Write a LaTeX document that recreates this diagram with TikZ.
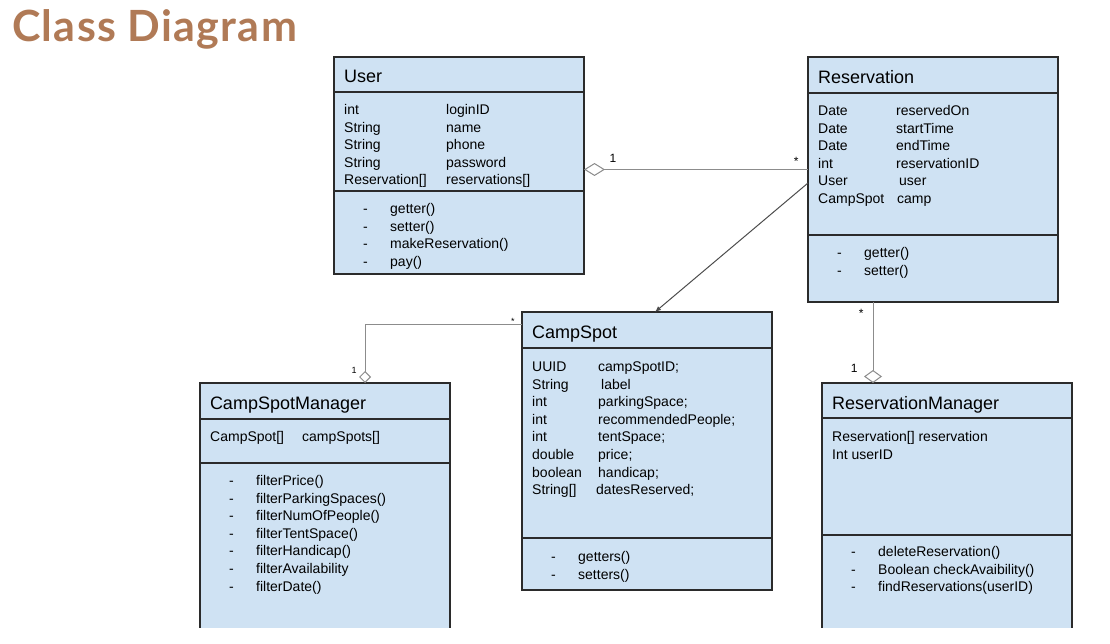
\documentclass[tikz,border=0pt]{standalone}
\usepackage{fontspec}
\setmainfont{Liberation Sans}
\newfontfamily\titlefont{Lato}[LetterSpace=3]
\usepackage{tikz}
\usetikzlibrary{arrows.meta, positioning}
\definecolor{boxfill}{HTML}{CFE2F3}
\definecolor{boxline}{HTML}{2B2B2B}
\definecolor{linkgray}{HTML}{8C8C8C}
\definecolor{titlebrown}{RGB}{176,122,86}
\newcommand{\fld}[3]{\makebox[#1][l]{#2}#3}
\newcommand{\op}[1]{\hspace*{19pt}\makebox[27pt][l]{-}#1}
\tikzset{
    part/.style={rectangle, draw=boxline, line width=1.2pt, fill=boxfill, inner sep=0pt, outer sep=0pt, minimum width=250pt},
    head/.style={part, anchor=north west, text width=230pt, inner xsep=10pt, align=left, text height=17pt, text depth=0pt, font=\fontsize{18}{21}\selectfont},
    fieldtext/.style={inner sep=0pt, align=left, font=\fontsize{14}{17.6}\selectfont},
    link/.style={draw=linkgray, line width=1pt},
    navarrow/.style={-{Latex[length=6pt, width=5pt]}, draw=black!70, line width=1pt},
    mult/.style={inner sep=1pt, font=\fontsize{12}{14}\selectfont}
}

\begin{document}
\begin{tikzpicture}[x=1pt, y=-1pt]
    \useasboundingbox (0,0) rectangle (1110,644);
    \clip (0,0) rectangle (1110,627.5);

    % Title
    \node[anchor=base west, inner sep=0pt, text=titlebrown, font=\titlefont\bfseries\fontsize{43}{48}\selectfont] (title) at (12,42) {Class Diagram};

    % User
    \node[head, minimum height=35pt] (user-head) at (334,57) {User};
    \node[part, below=0pt of user-head, minimum height=99pt] (user-fields) {};
    \node[part, below=0pt of user-fields, minimum height=83pt] (user-ops) {};
    \node[fieldtext, below right=10pt and 10pt of user-fields.north west] (user-fieldlist) {\strut\fld{102pt}{int}{loginID}\\ \fld{102pt}{String}{name}\\ \fld{102pt}{String}{phone}\\ \fld{102pt}{String}{password}\\ \fld{102pt}{Reservation[]}{reservations[]}};
    \node[fieldtext, below right=10pt and 10pt of user-ops.north west] (user-oplist) {\strut\op{getter()}\\ \op{setter()}\\ \op{makeReservation()}\\ \op{pay()}};

    % Reservation
    \node[head, minimum height=36pt] (res-head) at (808,57) {Reservation};
    \node[part, below=0pt of res-head, minimum height=142pt] (res-fields) {};
    \node[part, below=0pt of res-fields, minimum height=67pt] (res-ops) {};
    \node[fieldtext, below right=10pt and 10pt of res-fields.north west] (res-fieldlist) {\strut\fld{78pt}{Date}{reservedOn}\\ \fld{78pt}{Date}{startTime}\\ \fld{78pt}{Date}{endTime}\\ \fld{78pt}{int}{reservationID}\\ \fld{78pt}{User}{\hspace{3pt}user}\\ \fld{78pt}{CampSpot}{\hspace{1pt}camp}};
    \node[fieldtext, below right=10pt and 10pt of res-ops.north west] (res-oplist) {\strut\op{getter()}\\ \op{setter()}};

    % CampSpot
    \node[head, minimum height=36pt] (cs-head) at (522,312) {CampSpot};
    \node[part, below=0pt of cs-head, minimum height=190pt] (cs-fields) {};
    \node[part, below=0pt of cs-fields, minimum height=52pt] (cs-ops) {};
    \node[fieldtext, below right=11pt and 10pt of cs-fields.north west] (cs-fieldlist) {\strut\fld{66pt}{UUID}{campSpotID;}\\ \fld{66pt}{String}{\hspace{3pt}label}\\ \fld{66pt}{int}{parkingSpace;}\\ \fld{66pt}{int}{recommendedPeople;}\\ \fld{66pt}{int}{tentSpace;}\\ \fld{66pt}{double}{price;}\\ \fld{66pt}{boolean}{handicap;}\\ \fld{64pt}{String[]}{datesReserved;}};
    \node[fieldtext, below right=11pt and 10pt of cs-ops.north west] (cs-oplist) {\strut\op{getters()}\\ \op{setters()}};

    % CampSpotManager
    \node[head, minimum height=36pt] (csm-head) at (200,383) {CampSpotManager};
    \node[part, below=0pt of csm-head, minimum height=44pt] (csm-fields) {};
    \node[part, below=0pt of csm-fields, minimum height=190pt] (csm-ops) {};
    \node[fieldtext, below right=10pt and 10pt of csm-fields.north west] (csm-fieldlist) {\strut\fld{92pt}{CampSpot[]}{campSpots[]}};
    \node[fieldtext, below right=10pt and 10pt of csm-ops.north west] (csm-oplist) {\strut\op{filterPrice()}\\ \op{filterParkingSpaces()}\\ \op{filterNumOfPeople()}\\ \op{filterTentSpace()}\\ \op{filterHandicap()}\\ \op{filterAvailability}\\ \op{filterDate()}};

    % ReservationManager
    \node[head, minimum height=35pt] (rm-head) at (822,383) {ReservationManager};
    \node[part, below=0pt of rm-head, minimum height=117pt] (rm-fields) {};
    \node[part, below=0pt of rm-fields, minimum height=120pt] (rm-ops) {};
    \node[fieldtext, below right=11pt and 10pt of rm-fields.north west] (rm-fieldlist) {\strut Reservation[] reservation\\ Int userID};
    \node[fieldtext, below right=9pt and 10pt of rm-ops.north west] (rm-oplist) {\strut\op{deleteReservation()}\\ \op{Boolean checkAvaibility()}\\ \op{findReservations(userID)}};

    % Connections
    \draw[link, {Diamond[fill=white, length=21pt, width=13pt]}-] ([yshift=-28pt]user-fields.east) -- ([yshift=-28pt]user-fields.east -| res-fields.west)
        node[mult, at start, anchor=south west, xshift=24pt, yshift=5pt] {1}
        node[mult, at end, anchor=south east, xshift=-8pt, yshift=2pt] {*};
    \draw[navarrow] ([yshift=-19pt]res-fields.west) -- ([xshift=8pt]cs-head.north);
    \draw[link, -{Diamond[fill=white, length=12pt, width=12pt]}] ([yshift=6pt]cs-head.west) -| ([xshift=40pt]csm-head.north)
        node[mult, font=\fontsize{9}{11}\selectfont, at start, anchor=south east, xshift=-6pt, yshift=-2pt] {*}
        node[mult, font=\fontsize{9}{11}\selectfont, at end, anchor=south east, xshift=-7pt, yshift=8pt] {1};
    \draw[link, -{Diamond[fill=white, length=13pt, width=18pt]}] ([xshift=-60pt]res-ops.south) -- ([xshift=-60pt]res-ops.south |- rm-head.north)
        node[mult, at start, anchor=north east, xshift=-8pt, yshift=-6pt] {*}
        node[mult, at end, anchor=south east, xshift=-14pt, yshift=9pt] {1};
\end{tikzpicture}
\end{document}
